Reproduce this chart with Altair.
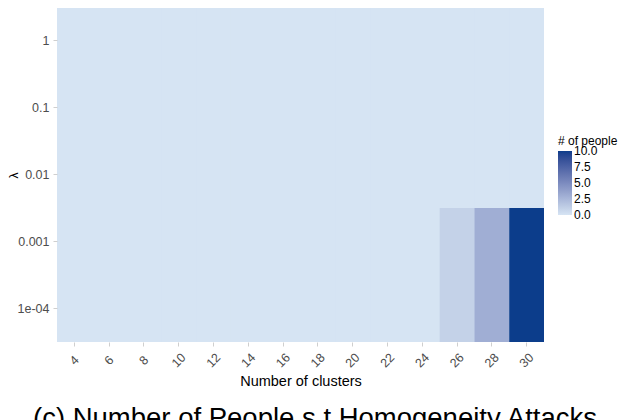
import altair as alt
import pandas as pd

clusters = [4, 6, 8, 10, 12, 14, 16, 18, 20, 22, 24, 26, 28, 30]
lambdas = ["1", "0.1", "0.01", "0.001", "1e-04"]
row_1 = [0, 0, 0, 0, 0, 0, 0, 0, 0, 0, 0, 0, 0, 0]
row_0_1 = [0, 0, 0, 0, 0, 0, 0, 0, 0, 0, 0, 0, 0, 0]
row_0_01 = [0, 0, 0, 0, 0, 0, 0, 0, 0, 0, 0, 0, 0, 0]
row_0_001 = [0, 0, 0, 0, 0, 0, 0, 0, 0, 0, 0, 1, 3, 10]
row_1e_04 = [0, 0, 0, 0, 0, 0, 0, 0, 0, 0, 0, 1, 3, 10]
legend_values = [0, 2.5, 5, 7.5, 10]
caption = "(c) Number of People s.t Homogeneity Attacks"

rows = [row_1, row_0_1, row_0_01, row_0_001, row_1e_04]
records = []
for lam, row in zip(lambdas, rows):
    for c, v in zip(clusters, row):
        records.append({"clusters": c, "lambda": lam, "people": v})
df = pd.DataFrame(records)

FONT = "Liberation Sans"
LOW = "#d6e4f3"
HIGH = "#0c3d8b"
# tiny domain widening keeps the end labels centred on the gradient ends
color_scale = alt.Scale(domain=[-0.0001, 10.0001], range=[LOW, HIGH], interpolate="lab")

heat = alt.Chart(df).mark_rect(strokeWidth=0).encode(
    x=alt.X(
        "clusters:O",
        sort=clusters,
        scale=alt.Scale(paddingInner=0, paddingOuter=0),
        axis=alt.Axis(
            title="Number of clusters",
            labelAngle=-45,
            labelAlign="center",
            labelBaseline="middle",
            labelPadding=14,
            labelFontSize=12.5,
            labelColor="#4d4d4d",
            labelFont=FONT,
            tickSize=4,
            tickColor="#cfcfcf",
            domain=False,
            grid=False,
            titleFont=FONT,
            titleFontSize=14.5,
            titleFontWeight="normal",
            titleColor="#000000",
            titleX=243.5,
            titleY=39,
            titleBaseline="middle",
            titleAlign="center",
        ),
    ),
    y=alt.Y(
        "lambda:O",
        sort=lambdas,
        scale=alt.Scale(paddingInner=0, paddingOuter=0),
        axis=alt.Axis(
            title="λ",
            labelFontSize=12.5,
            labelColor="#4d4d4d",
            labelFont=FONT,
            labelPadding=4,
            tickSize=4,
            tickColor="#cfcfcf",
            domain=False,
            grid=False,
            titleFont=FONT,
            titleFontSize=12,
            titleFontWeight="normal",
            titleColor="#000000",
            titleAngle=-90,
            titleX=-44,
            titleY=168,
            titleBaseline="middle",
            titleAlign="center",
        ),
    ),
    color=alt.Color(
        "people:Q",
        scale=color_scale,
        legend=alt.Legend(
            type="gradient",
            title="# of people",
            orient="none",
            legendX=501,
            legendY=129,
            direction="vertical",
            gradientLength=64,
            gradientThickness=14,
            values=legend_values,
            format=".1f",
            labelFont=FONT,
            labelFontSize=12,
            labelColor="#000000",
            labelOffset=2,
            labelOverlap=False,
            titleFont=FONT,
            titleFontSize=12,
            titleFontWeight="normal",
            titleColor="#000000",
            titlePadding=3,
        ),
    ),
)

cap = alt.Chart(pd.DataFrame({"t": [caption]})).mark_text(
    font=FONT, fontSize=27.5, color="#000000", align="center", baseline="alphabetic"
).encode(text="t:N", x=alt.value(258), y=alt.value(420))

chart = alt.layer(heat, cap).properties(
    width=487,
    height=335,
    autosize=alt.AutoSizeParams(type="none"),
    padding={"left": 49, "top": -1, "right": 74, "bottom": 78},
    background="white",
).configure_view(stroke=None, fill=LOW)

chart.save("out.html", embed_options={"renderer": "svg", "actions": False})
